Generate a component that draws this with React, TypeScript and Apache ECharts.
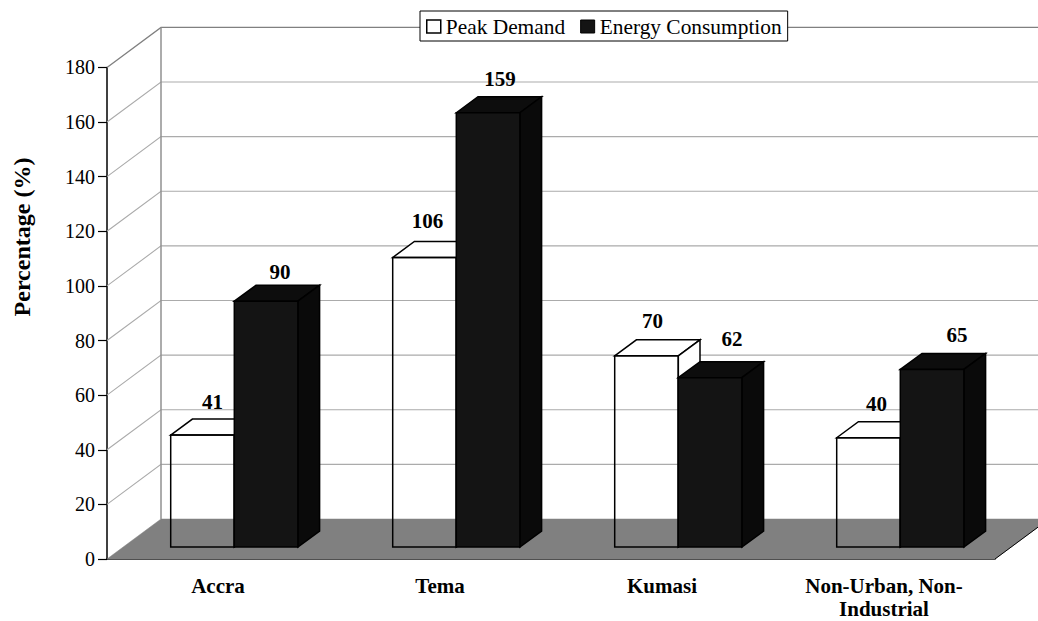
import React, { useEffect, useRef } from "react";
import * as echarts from "echarts";

const categories = ["Accra", "Tema", "Kumasi", "Non-Urban, Non-\nIndustrial"];
const peakDemand = [41, 106, 70, 40];
const energyConsumption = [90, 159, 62, 65];
const wallTicks = [0, 20, 40, 60, 80, 100, 120, 140, 160, 180];

// label placement, relative to the bar's front top-centre (dx, dy in pixels)
const peakLabelNudge = [[10, -33], [3, -36.6], [6, -35], [8, -34]];
const energyLabelNudge = [[14, -29], [12, -34], [22, -38.7], [25, -34.5]];

const FONT = '"Liberation Serif", "Times New Roman", serif';
const WALL_DX = 54;
const WALL_DY = -40;
const BAR_DX = 21.7;
const BAR_DY = -16;
const BAR_W = 63.6;
const BAR_INSET = 63.7;
const BASE_LIFT = 12;

function wallItem(params: any, api: any) {
  const v = api.value(1);
  const cs = params.coordSys;
  const y = api.coord([0, v])[1];
  const x0 = cs.x;
  const x1 = cs.x + cs.width;
  if (v === 0) {
    return {
      type: "group",
      children: [
        {
          type: "polygon",
          shape: { points: [[x0, y], [x0 + WALL_DX, y + WALL_DY], [x1 + WALL_DX, y + WALL_DY], [x1, y]] },
          style: { fill: "#808080", stroke: "#808080", lineWidth: 0.5 },
        },
        {
          type: "line",
          shape: { x1, y1: y, x2: x1 + WALL_DX, y2: y + WALL_DY },
          style: { stroke: "#000", lineWidth: 1 },
        },
      ],
    };
  }
  const isTop = v === 180;
  const children: any[] = [
    {
      type: "polyline",
      shape: { points: [[x0, y], [x0 + WALL_DX, y + WALL_DY], [x1 + WALL_DX, y + WALL_DY]] },
      style: { fill: "none", stroke: isTop ? "#808080" : "#ababab", lineWidth: isTop ? 1.3 : 1.1 },
    },
  ];
  if (isTop) {
    const y0 = api.coord([0, 0])[1];
    children.push({
      type: "line",
      shape: { x1: x0 + WALL_DX, y1: y + WALL_DY, x2: x0 + WALL_DX, y2: y0 + WALL_DY },
      style: { stroke: "#909090", lineWidth: 1.5 },
    });
  }
  return { type: "group", children };
}

function barItem(slot: number, nudge: number[][], dark: boolean) {
  return (params: any, api: any) => {
    const idx = api.value(0);
    const val = api.value(1);
    const band = api.size([1, 0])[0];
    const c = api.coord([idx, val]);
    const c0 = api.coord([idx, 0]);
    const left = c[0] - band / 2 + BAR_INSET + slot * BAR_W;
    const right = left + BAR_W;
    const top = c[1] - BASE_LIFT;
    const base = c0[1] - BASE_LIFT;
    const lw = 1.5;
    const edge = "#000";
    const topFace = {
      type: "polygon",
      shape: { points: [[left, top], [left + BAR_DX, top + BAR_DY], [right + BAR_DX, top + BAR_DY], [right, top]] },
      style: { fill: dark ? "#0d0d0d" : "#fff", stroke: edge, lineWidth: lw },
    };
    const sideFace = {
      type: "polygon",
      shape: { points: [[right, top], [right + BAR_DX, top + BAR_DY], [right + BAR_DX, base + BAR_DY], [right, base]] },
      style: { fill: dark ? "#0a0a0a" : "#fff", stroke: edge, lineWidth: lw },
    };
    const front = {
      type: "rect",
      shape: { x: left, y: top, width: BAR_W, height: base - top },
      style: { fill: dark ? "#141414" : "none", stroke: edge, lineWidth: lw },
    };
    const n = nudge[idx];
    const label = {
      type: "text",
      style: {
        text: String(val),
        x: (left + right) / 2 + n[0],
        y: top + n[1],
        align: "center",
        verticalAlign: "middle",
        fontFamily: FONT,
        fontSize: 21,
        fontWeight: "bold",
        fill: "#000",
      },
    };
    return { type: "group", children: [topFace, sideFace, front, label] };
  };
}

export default function App() {
  const ref = useRef<HTMLDivElement>(null);
  useEffect(() => {
    document.body.style.margin = "0";
    const chart = echarts.init(ref.current!, undefined, { renderer: "svg" });
    chart.setOption({
      animation: false,
      backgroundColor: "#fff",
      textStyle: { fontFamily: FONT },
      grid: { left: 107, right: 43, top: 67.4, bottom: 62, containLabel: false, outerBoundsMode: "none" },
      legend: {
        left: 420,
        top: 11,
        padding: [5, 6, 4, 6],
        itemGap: 15,
        itemWidth: 14,
        itemHeight: 13,
        backgroundColor: "#fff",
        borderColor: "#000",
        borderWidth: 1,
        textStyle: { fontFamily: FONT, fontSize: 21.4, color: "#000" },
        data: [
          { name: "Peak Demand", icon: "rect", itemStyle: { color: "#fff", borderColor: "#000", borderWidth: 1.5 } },
          { name: "Energy Consumption", icon: "rect", itemStyle: { color: "#141414", borderColor: "#000", borderWidth: 1 } },
        ],
      },
      xAxis: {
        type: "category",
        data: categories,
        axisLine: { lineStyle: { color: "#000", width: 1.5 } },
        axisTick: { length: 9, lineStyle: { color: "#000", width: 1 } },
        axisLabel: {
          interval: 0,
          margin: 15,
          fontFamily: FONT,
          fontSize: 21,
          fontWeight: "bold",
          color: "#000",
          lineHeight: 23.5,
        },
        splitLine: { show: false },
      },
      yAxis: {
        type: "value",
        min: 0,
        max: 180,
        interval: 20,
        axisLine: { show: true, lineStyle: { color: "#000", width: 1.5 } },
        axisTick: { show: true, length: 9, lineStyle: { color: "#000", width: 1.2 } },
        axisLabel: { margin: 12, fontFamily: FONT, fontSize: 20, color: "#000" },
        splitLine: { show: false },
      },
      graphic: [
        {
          type: "text",
          x: 22,
          y: 237,
          rotation: Math.PI / 2,
          style: {
            text: "Percentage (%)",
            align: "center",
            verticalAlign: "middle",
            fontFamily: FONT,
            fontSize: 24,
            fontWeight: "bold",
            fill: "#000",
          },
        },
      ],
      series: [
        {
          type: "custom",
          name: "walls",
          z: 1,
          silent: true,
          renderItem: wallItem,
          encode: { x: 0, y: 1 },
          data: wallTicks.map((v) => [0, v]),
        },
        {
          type: "custom",
          name: "Peak Demand",
          z: 2,
          itemStyle: { color: "#fff" },
          renderItem: barItem(0, peakLabelNudge, false),
          encode: { x: 0, y: 1 },
          data: peakDemand.map((v, i) => [i, v]),
        },
        {
          type: "custom",
          name: "Energy Consumption",
          z: 3,
          itemStyle: { color: "#141414" },
          renderItem: barItem(1, energyLabelNudge, true),
          encode: { x: 0, y: 1 },
          data: energyConsumption.map((v, i) => [i, v]),
        },
      ],
    });
    return () => chart.dispose();
  }, []);
  return <div ref={ref} style={{ width: 1038, height: 621 }} />;
}
